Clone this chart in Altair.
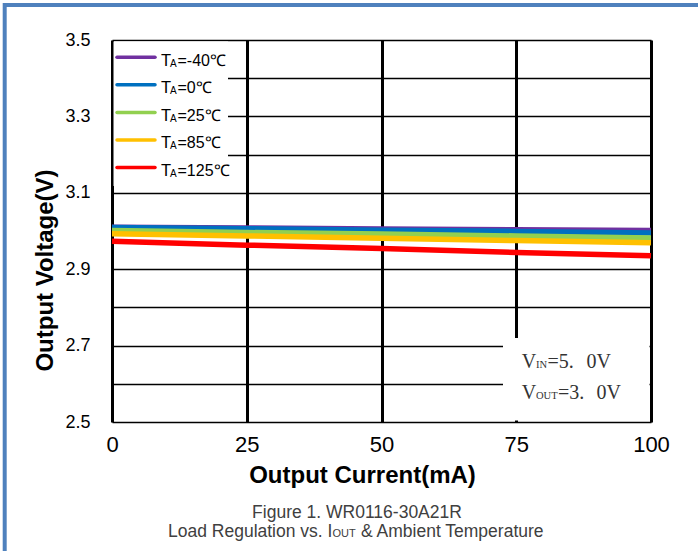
import altair as alt
import pandas as pd

# ---- data ----
currents = [0, 25, 50, 75, 100]
series = ["-40", "0", "25", "85", "125"]
v_m40 = [3.010, 3.008, 3.005, 3.003, 3.001]
v_0 = [3.009, 3.006, 3.002, 2.999, 2.995]
v_25 = [3.001, 2.996, 2.992, 2.987, 2.982]
v_85 = [2.993, 2.987, 2.981, 2.975, 2.969]
v_125 = [2.973, 2.963, 2.954, 2.944, 2.935]
colors = ["#7030A0", "#0070C0", "#92D050", "#FFC000", "#FF0000"]
legend_rest = ["=-40℃", "=0℃", "=25℃", "=85℃", "=125℃"]
x_ticks = [0, 25, 50, 75, 100]
y_ticks = [2.5, 2.6, 2.7, 2.8, 2.9, 3.0, 3.1, 3.2, 3.3, 3.4, 3.5]
y_labels = ["3.5", "3.3", "3.1", "2.9", "2.7", "2.5"]

rows = []
for s, vals in zip(series, [v_m40, v_0, v_25, v_85, v_125]):
    for c, v in zip(currents, vals):
        rows.append({"series": s, "current": c, "voltage": v})
df = pd.DataFrame(rows)
leg = pd.DataFrame({"series": series, "rest": legend_rest})
one = pd.DataFrame({"k": [0]})

SANS = "Liberation Sans"
SERIF = "Liberation Serif"
W, H = 539, 382

color = alt.Color("series:N", scale=alt.Scale(domain=series, range=colors), legend=None)
label_expr = "indexof([" + ",".join("'" + l + "'" for l in y_labels) + "], datum.label) >= 0 ? datum.label : ''"

lines = alt.Chart(df).mark_line(strokeWidth=5.5, strokeCap="butt").encode(
    x=alt.X("current:Q", scale=alt.Scale(domain=[0, 100], nice=False),
            axis=alt.Axis(values=x_ticks, title="Output Current(mA)", grid=True, gridColor="black",
                          gridWidth=3, gridOpacity=1, ticks=False, tickSize=0, domain=False,
                          labelFont=SANS, labelFontSize=22, labelColor="black", labelPadding=12,
                          labelFlush=False, labelOverlap=False,
                          titleFont=SANS, titleFontSize=24, titleFontWeight="bold", titleColor="black",
                          titleX=250, titleY=60, titleAlign="center", titleBaseline="alphabetic")),
    y=alt.Y("voltage:Q", scale=alt.Scale(domain=[2.5, 3.5], nice=False, zero=False),
            axis=alt.Axis(values=y_ticks, format=".1f", labelExpr=label_expr, title="Output Voltage(V)",
                          grid=True, gridColor="black", gridWidth=1.6, gridOpacity=1, ticks=False,
                          tickSize=0, domain=False, labelFont=SANS, labelFontSize=18, labelColor="black",
                          labelPadding=22, labelOverlap=False, labelFlush=False,
                          titleFont=SANS, titleFontSize=24, titleFontWeight="bold", titleColor="black",
                          titleX=-60, titleY=230, titleAngle=270, titleAlign="center",
                          titleBaseline="alphabetic")),
    color=color,
)

legend_box = alt.Chart(one).mark_rect(fill="white").encode(
    x=alt.value(1.5), x2=alt.value(116), y=alt.value(1.5), y2=alt.value(146))
ann_box = alt.Chart(one).mark_rect(fill="white").encode(
    x=alt.value(391), x2=alt.value(537.5), y=alt.value(298), y2=alt.value(380.5))

ly = alt.Y("series:N", scale=alt.Scale(type="point", domain=series, range=[17.3, 127.5], padding=0), axis=None)
leg_rule = alt.Chart(leg).mark_rule(strokeWidth=3.5, strokeCap="round").encode(
    x=alt.value(5), x2=alt.value(43), y=ly, color=color)
leg_T = alt.Chart(leg).mark_text(text="T", align="left", baseline="alphabetic", font=SANS,
                                 fontSize=16.5, dy=8.5, color="black").encode(x=alt.value(49), y=ly)
leg_A = alt.Chart(leg).mark_text(text="A", align="left", baseline="alphabetic", font=SANS,
                                 fontSize=10, dy=9.5, color="black").encode(x=alt.value(58), y=ly)
leg_rest = alt.Chart(leg).mark_text(align="left", baseline="alphabetic", font=SANS,
                                    fontSize=16, dy=8.5, color="black").encode(
    x=alt.value(65.5), y=ly, text="rest:N")


def txt(s, x, y, size, font=SANS, col="black", align="left", weight="normal"):
    return alt.Chart(one).mark_text(text=s, align=align, baseline="alphabetic", font=font,
                                    fontSize=size, color=col, fontWeight=weight).encode(
        x=alt.value(x), y=alt.value(y))


ann_col = "#333333"
ann = [
    txt("V", 409.7, 328, 20, SERIF, ann_col),
    txt("IN", 424, 328, 10.5, SERIF, ann_col),
    txt("=5.", 435.5, 328, 20, SERIF, ann_col),
    txt("0V", 474.5, 328, 20, SERIF, ann_col),
    txt("V", 409.7, 358.5, 20, SERIF, ann_col),
    txt("OUT", 424, 358.5, 10.5, SERIF, ann_col),
    txt("=3.", 446, 358.5, 20, SERIF, ann_col),
    txt("0V", 484.5, 358.5, 20, SERIF, ann_col),
]

cap_col = "#404040"
caps = [
    txt("Figure 1. WR0116-30A21R", 245, 478, 17.5, SANS, cap_col, align="center"),
    txt("Load Regulation vs. I", 56, 497, 17.5, SANS, cap_col),
    txt("OUT", 220.5, 497, 11, SANS, cap_col),
    txt("& Ambient Temperature", 249, 497, 17.5, SANS, cap_col),
]

frame_col = "#4F81BD"
frame_top = alt.Chart(one).mark_rule(strokeWidth=4, color=frame_col).encode(
    x=alt.value(-109), x2=alt.value(586), y=alt.value(-35))
frame_left = alt.Chart(one).mark_rule(strokeWidth=4, color=frame_col).encode(
    x=alt.value(-107.3), y=alt.value(-37), y2=alt.value(511))

chart = alt.layer(
    lines, legend_box, ann_box, leg_rule, leg_T, leg_A, leg_rest, *ann, *caps, frame_top, frame_left
).resolve_scale(y="independent").properties(
    width=W, height=H,
    autosize=alt.AutoSizeParams(type="none"),
    padding={"left": 112, "top": 40, "right": 47, "bottom": 129},
).configure_view(stroke="black", strokeWidth=3).configure(background="white")

chart.save("out.html", embed_options={"renderer": "svg", "actions": False})
